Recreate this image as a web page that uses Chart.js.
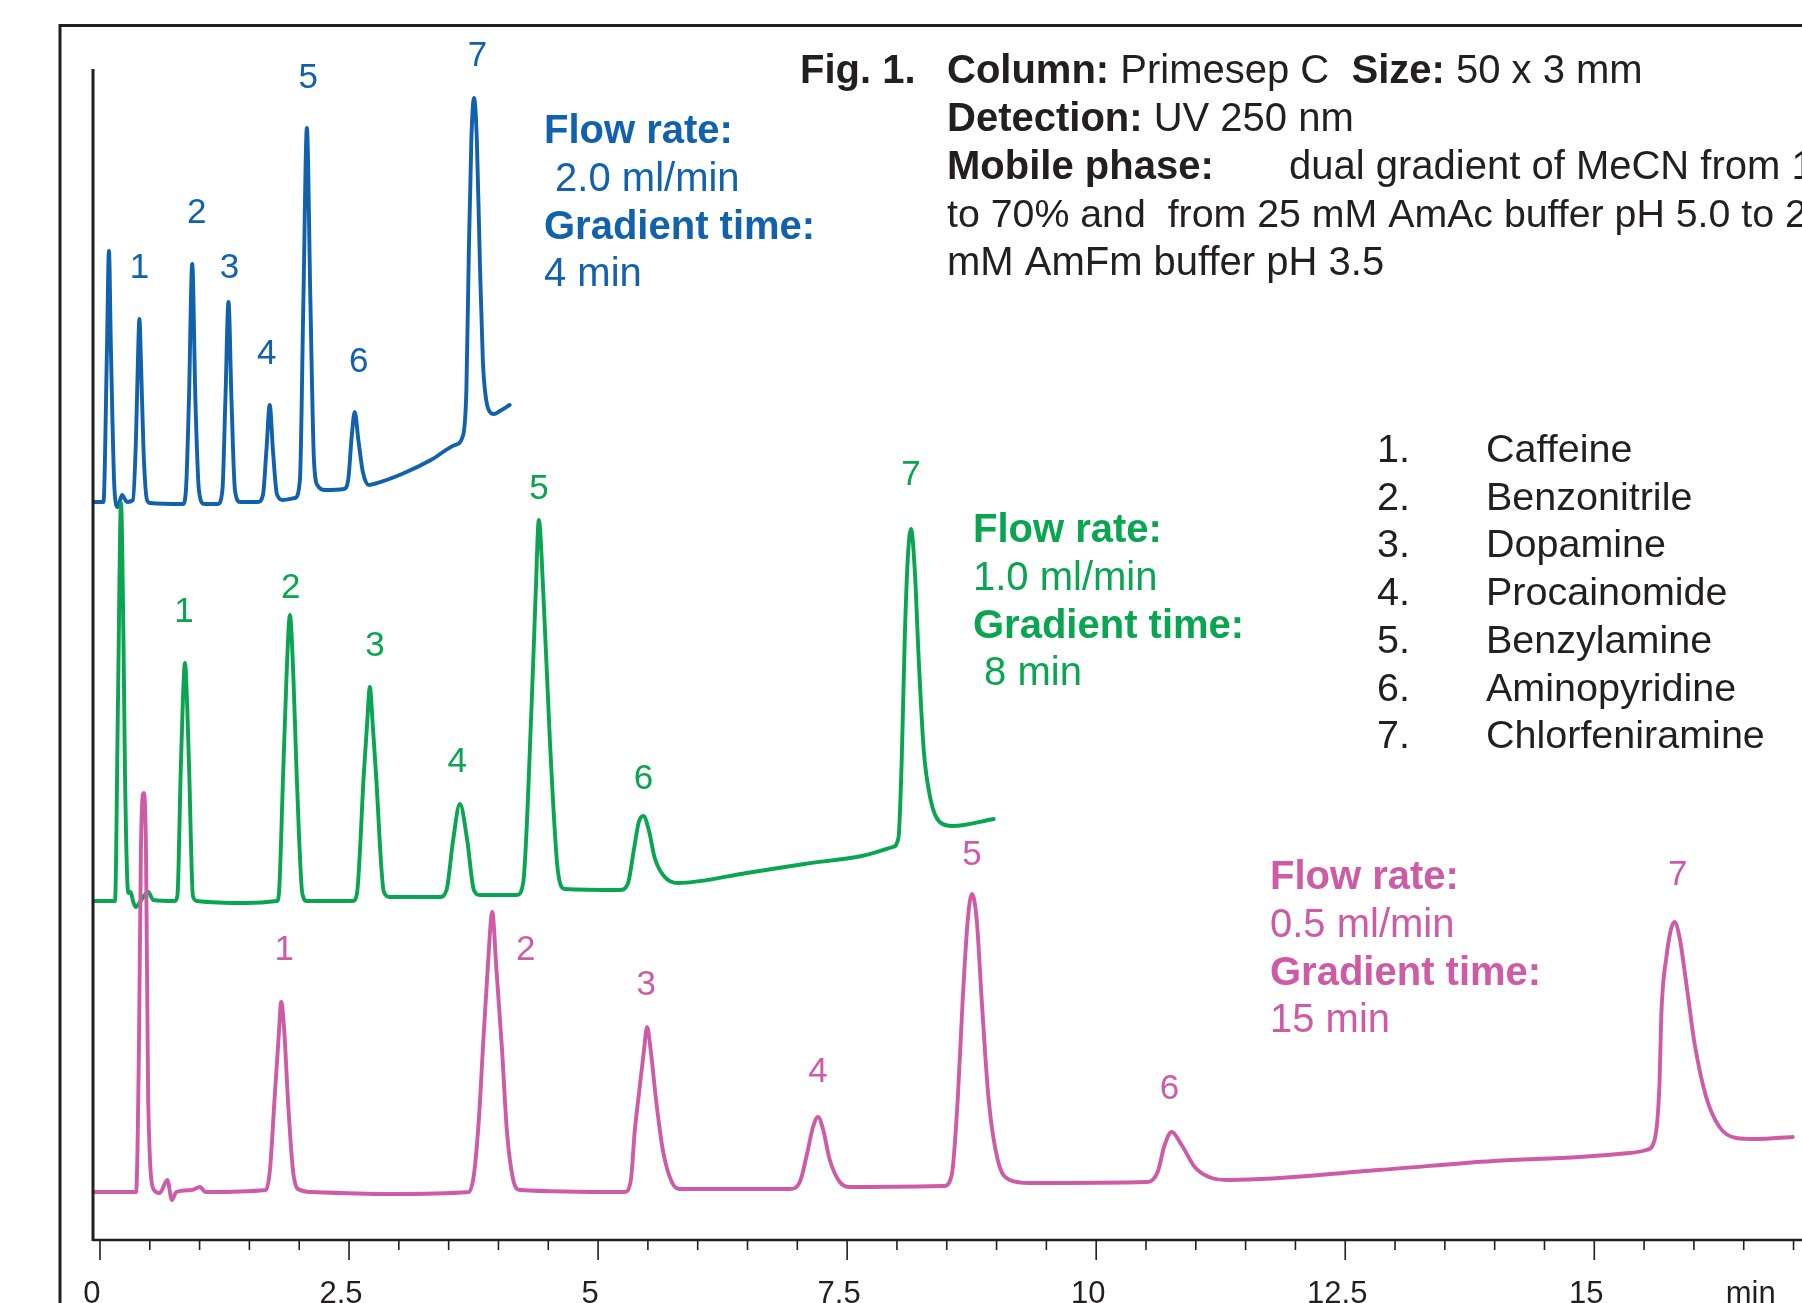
<!DOCTYPE html>
<html>
<head>
<meta charset="utf-8">
<title>Fig. 1 Primesep C</title>
<script src="https://cdn.jsdelivr.net/npm/chart.js@4.4.1/dist/chart.umd.min.js"></script>
<style>
    html, body { margin: 0; padding: 0; background: #fff; }
    #wrap { width: 1802px; height: 1303px; position: relative; }
</style>
</head>
<body>
<div id="wrap"><canvas id="chrom" width="1802" height="1303"></canvas></div>
<script>
// x축 라벨 (min)
var timeLabels = ['0', '2.5', '5', '7.5', '10', '12.5', '15'];
var timeLabelValues = [0, 2.5, 5, 7.5, 10, 12.5, 15];

// 2.0 ml/min, 4 min gradient (blue)
var blueTime = [-0.07, 0.035, 0.070, 0.090, 0.110, 0.146, 0.178, 0.221, 0.271,
    0.331, 0.361, 0.381, 0.396, 0.411, 0.437, 0.472, 0.502, 0.833,
    0.863, 0.893, 0.926, 0.958, 0.993, 1.044, 1.184,
    1.229, 1.259, 1.290, 1.320, 1.355, 1.405, 1.586,
    1.636, 1.671, 1.704, 1.736, 1.776, 1.836, 1.957,
    2.007, 2.042, 2.077, 2.112, 2.148, 2.188, 2.258, 2.449,
    2.494, 2.524, 2.557, 2.594, 2.639, 2.699, 2.750,
    3.031, 3.322, 3.562, 3.643,
    3.678, 3.703, 3.728, 3.755, 3.783, 3.813, 3.843, 3.874, 3.914, 3.954, 4.014, 4.112];
var blueSignal = [73.8, 73.8, 89.0, 98.9, 89.0, 75.0, 73.3, 74.5, 73.8,
    74.0, 80.0, 88.0, 92.1, 88.0, 79.0, 74.0, 73.7, 73.6,
    75.0, 84.0, 97.6, 84.0, 75.0, 73.6, 73.6,
    75.0, 84.0, 93.8, 84.0, 75.0, 73.8, 73.8,
    74.5, 79.0, 83.5, 79.0, 74.6, 74.0, 74.2,
    76.0, 94.0, 111.2, 94.0, 78.0, 75.4, 75.0, 75.1,
    76.2, 80.0, 82.8, 80.0, 76.8, 75.5, 75.6,
    76.6, 78.0, 79.5, 80.4,
    85.0, 99.0, 110.0, 114.2, 110.0, 98.0, 88.0, 84.2, 82.8, 82.6, 82.9, 83.5];

// 1.0 ml/min, 8 min gradient (green)
var greenTime = [-0.07, 0.151, 0.181, 0.211, 0.236, 0.251, 0.284, 0.308, 0.334, 0.361, 0.401, 0.485, 0.535,
    0.753, 0.778, 0.810, 0.830, 0.853, 0.876, 0.896, 0.933, 0.973, 1.475,
    1.776, 1.796, 1.839, 1.874, 1.907, 1.940, 1.974, 2.032, 2.077,
    2.539, 2.579, 2.649, 2.682, 2.709, 2.737, 2.770, 2.850, 2.910,
    3.412, 3.479, 3.545, 3.613, 3.686, 3.753, 3.813,
    4.185, 4.248, 4.332, 4.375, 4.405, 4.449, 4.516, 4.599, 4.666,
    5.218, 5.298, 5.359, 5.409, 5.455, 5.509, 5.569, 5.660, 5.800,
    6.493, 7.070, 7.647, 7.958,
    8.015, 8.048, 8.078, 8.108, 8.141, 8.179, 8.219, 8.269, 8.339, 8.429, 8.560, 8.971];
var greenSignal = [33.9, 33.9, 54.0, 73.7, 60.0, 46.7, 34.7, 34.8, 33.8, 33.3, 33.8, 34.8, 34.0,
    33.9, 34.5, 46.7, 53.3, 57.7, 53.3, 46.7, 34.4, 33.9, 33.7,
    33.9, 34.6, 46.7, 56.7, 62.5, 56.7, 46.7, 34.6, 33.9,
    33.9, 34.6, 46.7, 51.7, 55.3, 51.7, 46.7, 34.8, 34.3,
    34.3, 35.0, 40.0, 43.6, 40.0, 35.0, 34.5,
    34.5, 35.7, 53.3, 65.0, 72.0, 65.0, 50.0, 36.7, 35.1,
    35.0, 35.6, 39.0, 41.8, 42.4, 41.0, 38.2, 36.4, 35.7,
    36.7, 37.6, 38.4, 39.3,
    40.2, 48.0, 60.0, 68.0, 71.1, 67.0, 58.0, 49.0, 44.0, 41.8, 41.4, 42.1];

// 0.5 ml/min, 15 min gradient (pink)
var pinkTime = [-0.07, 0.363, 0.391, 0.411, 0.439, 0.462, 0.484, 0.542, 0.600, 0.676, 0.722, 0.766, 0.923, 1.004, 1.058, 1.666,
    1.706, 1.752, 1.796, 1.819, 1.851, 1.887, 1.937, 1.987, 2.127, 2.910, 3.703,
    3.753, 3.803, 3.843, 3.893, 3.938, 3.978, 4.036, 4.084, 4.144, 4.215, 5.268,
    5.329, 5.369, 5.403, 5.461, 5.492, 5.528, 5.582, 5.650, 5.740, 5.820, 6.924,
    7.025, 7.095, 7.155, 7.207, 7.255, 7.326, 7.426, 7.526, 8.470,
    8.550, 8.610, 8.660, 8.711, 8.753, 8.801, 8.851, 8.921, 9.012, 9.132, 9.333, 10.517,
    10.617, 10.687, 10.757, 10.858, 10.989, 11.159, 11.340,
    12.835, 13.989, 14.852, 15.354, 15.522,
    15.605, 15.655, 15.672, 15.724, 15.805, 15.855, 15.923, 16.006, 16.123, 16.257, 16.424, 16.625, 16.993];
var pinkSignal = [4.8, 4.8, 19.0, 39.0, 44.7, 39.0, 14.0, 5.0, 4.7, 6.0, 4.0, 4.8, 5.0, 5.3, 4.8, 5.0,
    7.0, 14.0, 20.7, 23.8, 20.7, 14.0, 7.0, 5.1, 4.8, 4.6, 4.8,
    6.5, 12.0, 19.0, 27.3, 32.8, 27.3, 19.0, 11.0, 6.2, 5.0, 4.8,
    6.0, 11.0, 14.0, 19.0, 21.3, 19.0, 14.0, 9.0, 5.8, 5.1, 5.1,
    5.8, 8.5, 11.2, 12.3, 11.2, 8.0, 5.8, 5.3, 5.4,
    6.5, 14.0, 24.0, 32.0, 34.6, 32.0, 24.0, 14.0, 8.0, 6.0, 5.7, 5.8,
    6.8, 9.5, 10.8, 9.5, 7.3, 6.2, 6.0,
    7.0, 7.9, 8.3, 8.7, 9.0,
    10.0, 15.7, 22.3, 28.3, 31.8, 30.3, 25.7, 19.7, 14.3, 11.3, 10.2, 10.1, 10.3];

// 피크 번호 라벨 위치 (time, signal)
var peakNames = ['1', '2', '3', '4', '5', '6', '7'];
var bluePeakTime = [0.396, 0.971, 1.300, 1.675, 2.090, 2.597, 3.789];
var bluePeakY = [97.2, 102.7, 97.2, 88.6, 116.2, 87.8, 118.4];
var greenPeakTime = [0.843, 1.914, 2.760, 3.586, 4.408, 5.455, 8.141];
var greenPeakY = [62.8, 65.2, 59.4, 47.8, 75.1, 46.1, 76.5];
var pinkPeakTime = [1.850, 4.274, 5.483, 7.207, 8.753, 10.737, 15.838];
var pinkPeakY = [29.0, 29.0, 25.5, 16.8, 38.5, 15.1, 36.5];

// 화합물 목록
var compounds = ['Caffeine', 'Benzonitrile', 'Dopamine', 'Procainomide', 'Benzylamine', 'Aminopyridine', 'Chlorfeniramine'];

var BLUE = '#1161ad';
var GREEN = '#0aa550';
var PINK = '#cd5ba6';
var INK = '#231f20';
var FONT = '"Liberation Sans", Arial, Helvetica, sans-serif';

function toPoints(times, signals) {
    var pts = [];
    for (var i = 0; i < times.length; i++) {
        pts.push({x: times[i], y: signals[i]});
    }
    return pts;
}

function setFont(ctx, size, bold) {
    ctx.font = (bold ? 'bold ' : '') + size + 'px ' + FONT;
}

// bold / regular 가 섞인 한 줄 출력
function drawRuns(ctx, x, y, runs, size, color) {
    var cx = x;
    ctx.fillStyle = color;
    ctx.textAlign = 'left';
    ctx.textBaseline = 'alphabetic';
    runs.forEach(function(r) {
        setFont(ctx, size, r[1]);
        ctx.fillText(r[0], cx, y);
        cx += ctx.measureText(r[0]).width;
    });
}

function drawCondBlock(ctx, x, y0, flow, grad, color) {
    var lh = 47.8;
    drawRuns(ctx, x, y0, [['Flow rate:', true]], 40, color);
    drawRuns(ctx, x, y0 + lh, [[flow, false]], 40, color);
    drawRuns(ctx, x, y0 + lh * 2, [['Gradient time:', true]], 40, color);
    drawRuns(ctx, x, y0 + lh * 3, [[grad, false]], 40, color);
}

var framePlugin = {
    id: 'frame',
    beforeDraw: function(chart) {
        var ctx = chart.ctx;
        ctx.save();
        ctx.fillStyle = '#fff';
        ctx.fillRect(0, 0, chart.width, chart.height);
        // 바깥 테두리
        ctx.strokeStyle = INK;
        ctx.lineWidth = 3;
        ctx.beginPath();
        ctx.moveTo(60, chart.height + 5);
        ctx.lineTo(60, 25.5);
        ctx.lineTo(chart.width + 5, 25.5);
        ctx.stroke();
        ctx.restore();
    },
    afterDraw: function(chart) {
        var ctx = chart.ctx;
        var xs = chart.scales.x;
        var ys = chart.scales.y;
        var area = chart.chartArea;
        var axisY = ys.getPixelForValue(0);
        ctx.save();

        // 축
        ctx.strokeStyle = INK;
        ctx.lineWidth = 3;
        ctx.beginPath();
        ctx.moveTo(area.left, area.top);
        ctx.lineTo(area.left, axisY + 1);
        ctx.stroke();
        ctx.lineWidth = 2.5;
        ctx.beginPath();
        ctx.moveTo(area.left, axisY);
        ctx.lineTo(chart.width, axisY);
        ctx.stroke();

        // 눈금 (0.5 min 간격, 2.5 min 마다 긴 눈금)
        ctx.lineWidth = 1.6;
        ctx.beginPath();
        for (var k = 0; k <= 34; k++) {
            var t = k * 0.5;
            var px = xs.getPixelForValue(t);
            var len = (k % 5 === 0) ? 20 : 10;
            ctx.moveTo(px, axisY);
            ctx.lineTo(px, axisY + len);
        }
        ctx.stroke();

        setFont(ctx, 31, false);
        ctx.fillStyle = INK;
        ctx.textAlign = 'center';
        ctx.textBaseline = 'alphabetic';
        timeLabels.forEach(function(lbl, i) {
            ctx.fillText(lbl, xs.getPixelForValue(timeLabelValues[i]) - 8, 1303);
        });
        ctx.fillText('min', xs.getPixelForValue(16.57), 1303);

        // 피크 번호
        setFont(ctx, 35, false);
        ctx.textBaseline = 'middle';
        var sets = [[bluePeakTime, bluePeakY, BLUE], [greenPeakTime, greenPeakY, GREEN], [pinkPeakTime, pinkPeakY, PINK]];
        sets.forEach(function(s) {
            ctx.fillStyle = s[2];
            peakNames.forEach(function(n, i) {
                ctx.fillText(n, xs.getPixelForValue(s[0][i]), ys.getPixelForValue(s[1][i]));
            });
        });

        // 조건 설명
        drawCondBlock(ctx, 544, 143, ' 2.0 ml/min', '4 min', BLUE);
        drawCondBlock(ctx, 973, 542, '1.0 ml/min', ' 8 min', GREEN);
        drawCondBlock(ctx, 1270, 889, '0.5 ml/min', '15 min', PINK);

        // Fig. 1 헤더
        var fs = 40;
        drawRuns(ctx, 800, 83, [['Fig. 1.', true]], fs, INK);
        drawRuns(ctx, 947, 83, [['Column:', true], [' Primesep C  ', false], ['Size:', true], [' 50 x 3 mm', false]], fs, INK);
        drawRuns(ctx, 947, 131, [['Detection:', true], [' UV 250 nm', false]], fs, INK);
        drawRuns(ctx, 947, 179, [['Mobile phase:', true]], fs, INK);
        drawRuns(ctx, 1289, 179, [['dual gradient of MeCN from 1', false]], fs, INK);
        drawRuns(ctx, 947, 227, [['to 70% and  from 25 mM AmAc buffer pH 5.0 to 2', false]], 39.3, INK);
        drawRuns(ctx, 947, 275, [['mM AmFm buffer pH 3.5', false]], fs, INK);

        // 화합물 목록
        compounds.forEach(function(name, i) {
            var by = 462 + i * 47.7;
            drawRuns(ctx, 1377, by, [[(i + 1) + '.', false]], 39.5, INK);
            drawRuns(ctx, 1486, by, [[name, false]], 39.5, INK);
        });

        ctx.restore();
    }
};

function traceSet(label, times, signals, color) {
    return {
        label: label,
        data: toPoints(times, signals),
        borderColor: color,
        borderWidth: 3.9,
        pointRadius: 0,
        fill: false,
        cubicInterpolationMode: 'monotone',
        borderJoinStyle: 'round',
        borderCapStyle: 'round'
    };
}

var ctx = document.getElementById('chrom').getContext('2d');
var chrom = new Chart(ctx, {
    type: 'line',
    data: {
        datasets: [
            traceSet('0.5 ml/min', pinkTime, pinkSignal, PINK),
            traceSet('1.0 ml/min', greenTime, greenSignal, GREEN),
            traceSet('2.0 ml/min', blueTime, blueSignal, BLUE)
        ]
    },
    options: {
        responsive: false,
        devicePixelRatio: 1,
        animation: false,
        layout: { padding: { left: 93, top: 69, right: 0, bottom: 63 } },
        plugins: { legend: { display: false }, tooltip: { enabled: false } },
        scales: {
            x: { type: 'linear', min: -0.07, max: 17.085, display: false },
            y: { type: 'linear', min: 0, max: 117.1, display: false }
        }
    },
    plugins: [framePlugin]
});
</script>
</body>
</html>
